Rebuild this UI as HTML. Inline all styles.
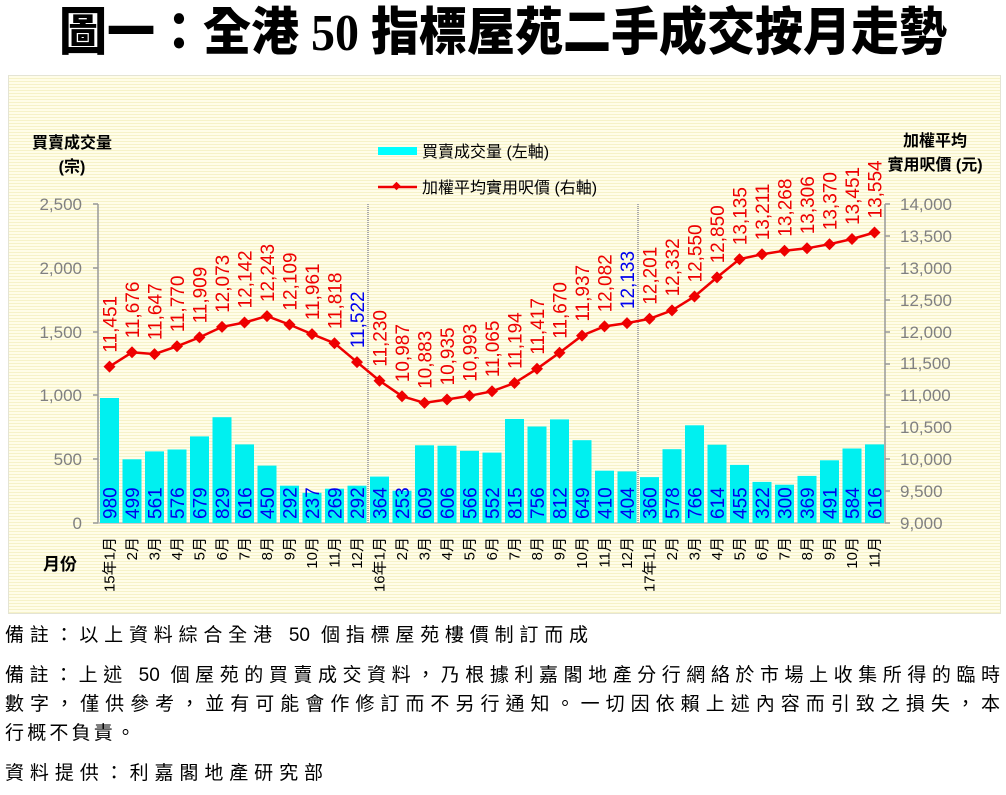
<!DOCTYPE html>
<html><head><meta charset="utf-8">
<style>
body{margin:0;width:1006px;height:795px;background:#fff;overflow:hidden;position:relative;font-family:"Liberation Sans","Noto Sans CJK TC",sans-serif;}
#title{position:absolute;left:0;top:4px;width:1006px;text-align:center;font-family:"Liberation Serif","Noto Sans CJK TC",sans-serif;font-weight:900;font-size:48px;line-height:60px;color:#000;transform:scaleY(1.08);}
#panel{position:absolute;left:8px;top:75px;width:991px;height:537px;border:1px solid #e4e4d4;background:repeating-linear-gradient(180deg,#fffde8 0px,#fffde8 2px,#f6f2c8 2px,#f6f2c8 3px);}
svg{position:absolute;left:0;top:0;}
.ft{position:absolute;left:5px;font-size:19px;line-height:24px;color:#000;text-align:justify;text-align-last:justify;white-space:nowrap;}
</style></head><body>
<div id="title">圖一：全港 50 指標屋苑二手成交按月走勢</div>
<div id="panel"></div>
<svg width="1006" height="795" viewBox="0 0 1006 795" font-family="Liberation Sans, Noto Sans CJK TC, sans-serif">
<g font-weight="bold" font-size="16" fill="#000">
<text x="32" y="148">買賣成交量</text>
<text x="72" y="172" text-anchor="middle">(宗)</text>
<text x="935" y="146" text-anchor="middle">加權平均</text>
<text x="935" y="170" text-anchor="middle">實用呎價 (元)</text>
<text x="43" y="570" font-size="17">月份</text>
</g>
<rect x="378" y="147" width="39" height="8" fill="#00ffff"/>
<text x="422" y="157" font-size="16" fill="#000">買賣成交量 (左軸)</text>
<line x1="378" y1="187" x2="417" y2="187" stroke="#ee0000" stroke-width="2.5"/>
<rect x="393.5" y="183" width="6" height="6" fill="#ee0000" transform="rotate(45 396.5 186)"/>
<text x="422" y="193" font-size="16" fill="#000">加權平均實用呎價 (右軸)</text>
<g stroke="#999" stroke-width="1.5" fill="none">
<line x1="98" y1="204" x2="98" y2="523"/>
<line x1="885" y1="204" x2="885" y2="523"/>
<line x1="98" y1="523" x2="885" y2="523" stroke="#bbb"/>
<path d="M93 204H98M93 268H98M93 332H98M93 395H98M93 459H98M93 523H98"/>
<path d="M885 204H890M885 236H890M885 268H890M885 300H890M885 332H890M885 364H890M885 395H890M885 427H890M885 459H890M885 491H890M885 523H890"/>
</g>
<line x1="368" y1="204" x2="368" y2="523" stroke="#aaa" stroke-width="2" stroke-dasharray="1,1"/>
<line x1="638" y1="204" x2="638" y2="523" stroke="#aaa" stroke-width="2" stroke-dasharray="1,1"/>
<g font-size="17" fill="#808080" text-anchor="end">
<text x="82" y="210">2,500</text><text x="82" y="274">2,000</text><text x="82" y="338">1,500</text>
<text x="82" y="401">1,000</text><text x="82" y="465">500</text><text x="82" y="529">0</text>
</g>
<g font-size="17" fill="#808080">
<text x="900" y="210">14,000</text><text x="900" y="242">13,500</text><text x="900" y="274">13,000</text>
<text x="900" y="306">12,500</text><text x="900" y="338">12,000</text><text x="900" y="369">11,500</text>
<text x="900" y="401">11,000</text><text x="900" y="433">10,500</text><text x="900" y="465">10,000</text>
<text x="900" y="497">9,500</text><text x="900" y="529">9,000</text>
</g>
<g fill="#00f0f0">
<rect x="100" y="398" width="19" height="125"/>
<rect x="122.5" y="459.3" width="19" height="63.7"/>
<rect x="145" y="451.4" width="19" height="71.6"/>
<rect x="167.5" y="449.5" width="19" height="73.5"/>
<rect x="190" y="436.4" width="19" height="86.6"/>
<rect x="212.5" y="417.2" width="19" height="105.8"/>
<rect x="235" y="444.4" width="19" height="78.6"/>
<rect x="257.5" y="465.6" width="19" height="57.4"/>
<rect x="280" y="485.7" width="19" height="37.3"/>
<rect x="302.5" y="492.8" width="19" height="30.2"/>
<rect x="325" y="488.7" width="19" height="34.3"/>
<rect x="347.5" y="485.7" width="19" height="37.3"/>
<rect x="370" y="476.6" width="19" height="46.4"/>
<rect x="392.5" y="490.7" width="19" height="32.3"/>
<rect x="415" y="445.3" width="19" height="77.7"/>
<rect x="437.5" y="445.7" width="19" height="77.3"/>
<rect x="460" y="450.8" width="19" height="72.2"/>
<rect x="482.5" y="452.6" width="19" height="70.4"/>
<rect x="505" y="419" width="19" height="104"/>
<rect x="527.5" y="426.5" width="19" height="96.5"/>
<rect x="550" y="419.4" width="19" height="103.6"/>
<rect x="572.5" y="440.2" width="19" height="82.8"/>
<rect x="595" y="470.7" width="19" height="52.3"/>
<rect x="617.5" y="471.4" width="19" height="51.6"/>
<rect x="640" y="477.1" width="19" height="45.9"/>
<rect x="662.5" y="449.2" width="19" height="73.8"/>
<rect x="685" y="425.3" width="19" height="97.7"/>
<rect x="707.5" y="444.7" width="19" height="78.3"/>
<rect x="730" y="464.9" width="19" height="58.1"/>
<rect x="752.5" y="481.9" width="19" height="41.1"/>
<rect x="775" y="484.7" width="19" height="38.3"/>
<rect x="797.5" y="475.9" width="19" height="47.1"/>
<rect x="820" y="460.3" width="19" height="62.7"/>
<rect x="842.5" y="448.5" width="19" height="74.5"/>
<rect x="865" y="444.4" width="19" height="78.6"/>
</g>
<g font-size="19" fill="#0000ee">
<text transform="translate(116.3 519) rotate(-90)">980</text>
<text transform="translate(138.8 519) rotate(-90)">499</text>
<text transform="translate(161.3 519) rotate(-90)">561</text>
<text transform="translate(183.8 519) rotate(-90)">576</text>
<text transform="translate(206.3 519) rotate(-90)">679</text>
<text transform="translate(228.8 519) rotate(-90)">829</text>
<text transform="translate(251.3 519) rotate(-90)">616</text>
<text transform="translate(273.8 519) rotate(-90)">450</text>
<text transform="translate(296.3 519) rotate(-90)">292</text>
<text transform="translate(318.8 519) rotate(-90)">237</text>
<text transform="translate(341.3 519) rotate(-90)">269</text>
<text transform="translate(363.8 519) rotate(-90)">292</text>
<text transform="translate(386.3 519) rotate(-90)">364</text>
<text transform="translate(408.8 519) rotate(-90)">253</text>
<text transform="translate(431.3 519) rotate(-90)">609</text>
<text transform="translate(453.8 519) rotate(-90)">606</text>
<text transform="translate(476.3 519) rotate(-90)">566</text>
<text transform="translate(498.8 519) rotate(-90)">552</text>
<text transform="translate(521.3 519) rotate(-90)">815</text>
<text transform="translate(543.8 519) rotate(-90)">756</text>
<text transform="translate(566.3 519) rotate(-90)">812</text>
<text transform="translate(588.8 519) rotate(-90)">649</text>
<text transform="translate(611.3 519) rotate(-90)">410</text>
<text transform="translate(633.8 519) rotate(-90)">404</text>
<text transform="translate(656.3 519) rotate(-90)">360</text>
<text transform="translate(678.8 519) rotate(-90)">578</text>
<text transform="translate(701.3 519) rotate(-90)">766</text>
<text transform="translate(723.8 519) rotate(-90)">614</text>
<text transform="translate(746.3 519) rotate(-90)">455</text>
<text transform="translate(768.8 519) rotate(-90)">322</text>
<text transform="translate(791.3 519) rotate(-90)">300</text>
<text transform="translate(813.8 519) rotate(-90)">369</text>
<text transform="translate(836.3 519) rotate(-90)">491</text>
<text transform="translate(858.8 519) rotate(-90)">584</text>
<text transform="translate(881.3 519) rotate(-90)">616</text>
</g>
<polyline fill="none" stroke="#ee0000" stroke-width="2.5" points="109.5,366.6 132,352.3 154.5,354.1 177,346.3 199.5,337.4 222,326.9 244.5,322.5 267,316.1 289.5,324.6 312,334.1 334.5,343.2 357,362.1 379.5,380.7 402,396.2 424.5,402.9 447,399.5 469.5,395.8 492,391.3 514.5,383 537,368.8 559.5,352.7 582,335.6 604.5,326.4 627,323.1 649.5,318.8 672,310.4 694.5,296.5 717,277.4 739.5,259.2 762,254.3 784.5,250.7 807,248.3 829.5,244.2 852,239 874.5,232.5"/>
<g fill="#ee0000">
<path d="M109.5 360.6l6 6-6 6-6-6z"/><path d="M132 346.3l6 6-6 6-6-6z"/><path d="M154.5 348.1l6 6-6 6-6-6z"/><path d="M177 340.3l6 6-6 6-6-6z"/><path d="M199.5 331.4l6 6-6 6-6-6z"/><path d="M222 320.9l6 6-6 6-6-6z"/><path d="M244.5 316.5l6 6-6 6-6-6z"/><path d="M267 310.1l6 6-6 6-6-6z"/><path d="M289.5 318.6l6 6-6 6-6-6z"/><path d="M312 328.1l6 6-6 6-6-6z"/><path d="M334.5 337.2l6 6-6 6-6-6z"/><path d="M357 356.1l6 6-6 6-6-6z"/><path d="M379.5 374.7l6 6-6 6-6-6z"/><path d="M402 390.2l6 6-6 6-6-6z"/><path d="M424.5 396.9l6 6-6 6-6-6z"/><path d="M447 393.5l6 6-6 6-6-6z"/><path d="M469.5 389.8l6 6-6 6-6-6z"/><path d="M492 385.3l6 6-6 6-6-6z"/><path d="M514.5 377l6 6-6 6-6-6z"/><path d="M537 362.8l6 6-6 6-6-6z"/><path d="M559.5 346.7l6 6-6 6-6-6z"/><path d="M582 329.6l6 6-6 6-6-6z"/><path d="M604.5 320.4l6 6-6 6-6-6z"/><path d="M627 317.1l6 6-6 6-6-6z"/><path d="M649.5 312.8l6 6-6 6-6-6z"/><path d="M672 304.4l6 6-6 6-6-6z"/><path d="M694.5 290.5l6 6-6 6-6-6z"/><path d="M717 271.4l6 6-6 6-6-6z"/><path d="M739.5 253.2l6 6-6 6-6-6z"/><path d="M762 248.3l6 6-6 6-6-6z"/><path d="M784.5 244.7l6 6-6 6-6-6z"/><path d="M807 242.3l6 6-6 6-6-6z"/><path d="M829.5 238.2l6 6-6 6-6-6z"/><path d="M852 233l6 6-6 6-6-6z"/><path d="M874.5 226.5l6 6-6 6-6-6z"/>
</g>
<g font-size="19" fill="#ee0000">
<text transform="translate(116.5 352.6) rotate(-90)">11,451</text>
<text transform="translate(139 338.3) rotate(-90)">11,676</text>
<text transform="translate(161.5 340.1) rotate(-90)">11,647</text>
<text transform="translate(184 332.3) rotate(-90)">11,770</text>
<text transform="translate(206.5 323.4) rotate(-90)">11,909</text>
<text transform="translate(229 312.9) rotate(-90)">12,073</text>
<text transform="translate(251.5 308.5) rotate(-90)">12,142</text>
<text transform="translate(274 302.1) rotate(-90)">12,243</text>
<text transform="translate(296.5 310.6) rotate(-90)">12,109</text>
<text transform="translate(319 320.1) rotate(-90)">11,961</text>
<text transform="translate(341.5 329.2) rotate(-90)">11,818</text>
<text transform="translate(364 348.1) rotate(-90)" fill="#0000ee">11,522</text>
<text transform="translate(386.5 366.7) rotate(-90)">11,230</text>
<text transform="translate(409 382.2) rotate(-90)">10,987</text>
<text transform="translate(431.5 388.9) rotate(-90)">10,883</text>
<text transform="translate(454 385.5) rotate(-90)">10,935</text>
<text transform="translate(476.5 381.8) rotate(-90)">10,993</text>
<text transform="translate(499 377.3) rotate(-90)">11,065</text>
<text transform="translate(521.5 369) rotate(-90)">11,194</text>
<text transform="translate(544 354.8) rotate(-90)">11,417</text>
<text transform="translate(566.5 338.7) rotate(-90)">11,670</text>
<text transform="translate(589 321.6) rotate(-90)">11,937</text>
<text transform="translate(611.5 312.4) rotate(-90)">12,082</text>
<text transform="translate(634 309.1) rotate(-90)" fill="#0000ee">12,133</text>
<text transform="translate(656.5 304.8) rotate(-90)">12,201</text>
<text transform="translate(679 296.4) rotate(-90)">12,332</text>
<text transform="translate(701.5 282.5) rotate(-90)">12,550</text>
<text transform="translate(724 263.4) rotate(-90)">12,850</text>
<text transform="translate(746.5 245.2) rotate(-90)">13,135</text>
<text transform="translate(769 240.3) rotate(-90)">13,211</text>
<text transform="translate(791.5 236.7) rotate(-90)">13,268</text>
<text transform="translate(814 234.3) rotate(-90)">13,306</text>
<text transform="translate(836.5 230.2) rotate(-90)">13,370</text>
<text transform="translate(859 225) rotate(-90)">13,451</text>
<text transform="translate(881.5 218.5) rotate(-90)">13,554</text>
</g>
<g font-size="15" fill="#000" text-anchor="end">
<text transform="translate(114.5 537) rotate(-90)">15年1月</text>
<text transform="translate(137 537) rotate(-90)">2月</text>
<text transform="translate(159.5 537) rotate(-90)">3月</text>
<text transform="translate(182 537) rotate(-90)">4月</text>
<text transform="translate(204.5 537) rotate(-90)">5月</text>
<text transform="translate(227 537) rotate(-90)">6月</text>
<text transform="translate(249.5 537) rotate(-90)">7月</text>
<text transform="translate(272 537) rotate(-90)">8月</text>
<text transform="translate(294.5 537) rotate(-90)">9月</text>
<text transform="translate(317 537) rotate(-90)">10月</text>
<text transform="translate(339.5 537) rotate(-90)">11月</text>
<text transform="translate(362 537) rotate(-90)">12月</text>
<text transform="translate(384.5 537) rotate(-90)">16年1月</text>
<text transform="translate(407 537) rotate(-90)">2月</text>
<text transform="translate(429.5 537) rotate(-90)">3月</text>
<text transform="translate(452 537) rotate(-90)">4月</text>
<text transform="translate(474.5 537) rotate(-90)">5月</text>
<text transform="translate(497 537) rotate(-90)">6月</text>
<text transform="translate(519.5 537) rotate(-90)">7月</text>
<text transform="translate(542 537) rotate(-90)">8月</text>
<text transform="translate(564.5 537) rotate(-90)">9月</text>
<text transform="translate(587 537) rotate(-90)">10月</text>
<text transform="translate(609.5 537) rotate(-90)">11月</text>
<text transform="translate(632 537) rotate(-90)">12月</text>
<text transform="translate(654.5 537) rotate(-90)">17年1月</text>
<text transform="translate(677 537) rotate(-90)">2月</text>
<text transform="translate(699.5 537) rotate(-90)">3月</text>
<text transform="translate(722 537) rotate(-90)">4月</text>
<text transform="translate(744.5 537) rotate(-90)">5月</text>
<text transform="translate(767 537) rotate(-90)">6月</text>
<text transform="translate(789.5 537) rotate(-90)">7月</text>
<text transform="translate(812 537) rotate(-90)">8月</text>
<text transform="translate(834.5 537) rotate(-90)">9月</text>
<text transform="translate(857 537) rotate(-90)">10月</text>
<text transform="translate(879.5 537) rotate(-90)">11月</text>
</g>
</svg>
<div class="ft" style="top:624px;width:583px;">備註：以上資料綜合全港 50 個指標屋苑樓價制訂而成</div>
<div class="ft" style="top:664px;width:995px;">備註：上述 50 個屋苑的買賣成交資料，乃根據利嘉閣地產分行網絡於市場上收集所得的臨時</div>
<div class="ft" style="top:693px;width:995px;">數字，僅供參考，並有可能會作修訂而不另行通知。一切因依賴上述內容而引致之損失，本</div>
<div class="ft" style="top:722px;width:130px;">行概不負責。</div>
<div class="ft" style="top:762px;width:318px;">資料提供：利嘉閣地產研究部</div>
</body></html>
